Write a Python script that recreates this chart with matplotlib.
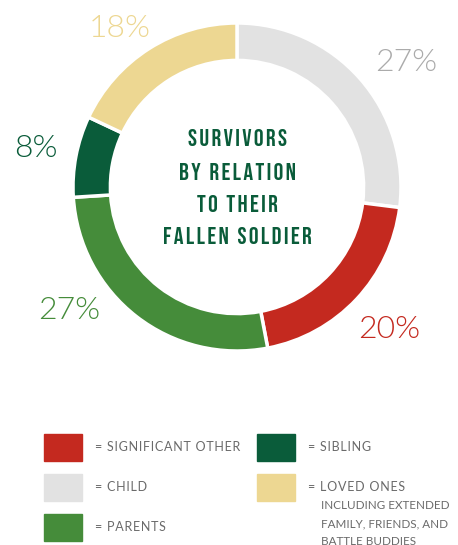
import matplotlib
matplotlib.use("Agg")
import matplotlib.pyplot as plt
import numpy as np

categories = ["Child", "Significant Other", "Parents", "Sibling", "Loved Ones"]
values = [27, 20, 27, 8, 18]
colors = ["#E2E2E2", "#C4291F", "#458C3A", "#0A5C3A", "#EDD792"]
label_colors = ["#ABABAB", "#C4291F", "#458C3A", "#0A5C3A", "#EDD792"]
label_angle_offsets = [-5, 0, -16, 0, 4]
label_radii = [1.28, 1.27, 1.27, 1.25, 1.20]

legend_items = [
    ("= SIGNIFICANT OTHER", "#C4291F"),
    ("= CHILD", "#E2E2E2"),
    ("= PARENTS", "#458C3A"),
    ("= SIBLING", "#0A5C3A"),
    ("= LOVED ONES\nINCLUDING EXTENDED\nFAMILY, FRIENDS, AND\nBATTLE BUDDIES", "#EDD792"),
]
title_lines = ["SURVIVORS", "BY RELATION", "TO THEIR", "FALLEN SOLDIER"]

W, H = 458, 545
fig = plt.figure(figsize=(W / 100, H / 100), dpi=100)
fig.patch.set_facecolor("white")

cx, cy, R = 237, 187, 164
ax = fig.add_axes([(cx - R) / W, (H - cy - R) / H, 2 * R / W, 2 * R / H])

wedges, _ = ax.pie(values, colors=colors, startangle=90, counterclock=False,
                   radius=1, wedgeprops=dict(width=0.228, edgecolor="white", linewidth=2.5))
ax.set_xlim(-1, 1)
ax.set_ylim(-1, 1)
ax.set_aspect("equal")
ax.axis("off")

def spaced(s, sep="\u200a"):
    return sep.join(s)

total = sum(values)
cum = 0
for v, c, off, r in zip(values, label_colors, label_angle_offsets, label_radii):
    mid = 90 - (cum + v / 2) / total * 360 + off
    cum += v
    x, y = r * np.cos(np.radians(mid)), r * np.sin(np.radians(mid))
    ax.text(x, y, f"{v}%", ha="center", va="center", color=c, fontsize=23,
            family="Lato", fontweight=300, clip_on=False)

ys = [138, 171, 204, 236]
for line, yy in zip(title_lines, ys):
    fig.text(cx / W, 1 - yy / H, spaced(line, "\u200a"), ha="center", va="center",
             color="#0A5C3A", fontsize=17.5, family=["Bebas Neue", "DejaVu Sans"])

# legend
sq_w, sq_h = 38, 27
positions = [(44, 434), (44, 474), (44, 514), (257, 434), (257, 474)]
for (label, col), (lx, ly) in zip(legend_items, positions):
    fig.patches.append(plt.Rectangle((lx / W, 1 - (ly + sq_h) / H), sq_w / W, sq_h / H,
                                     transform=fig.transFigure, color=col, zorder=1))
    lines = label.split("\n")
    for i, ln in enumerate(lines):
        if i == 0:
            txt, xoff, fs = spaced(ln, "\u200a"), 51, 9.0
        else:
            txt, xoff, fs = ln, 64, 8.4
        fig.text((lx + xoff) / W, 1 - (ly + 13 + i * 18.3) / H, txt,
                 ha="left", va="center", color="#6A6A6A", fontsize=fs, family="Lato")

fig.savefig("out.png", dpi=100, facecolor="white")
